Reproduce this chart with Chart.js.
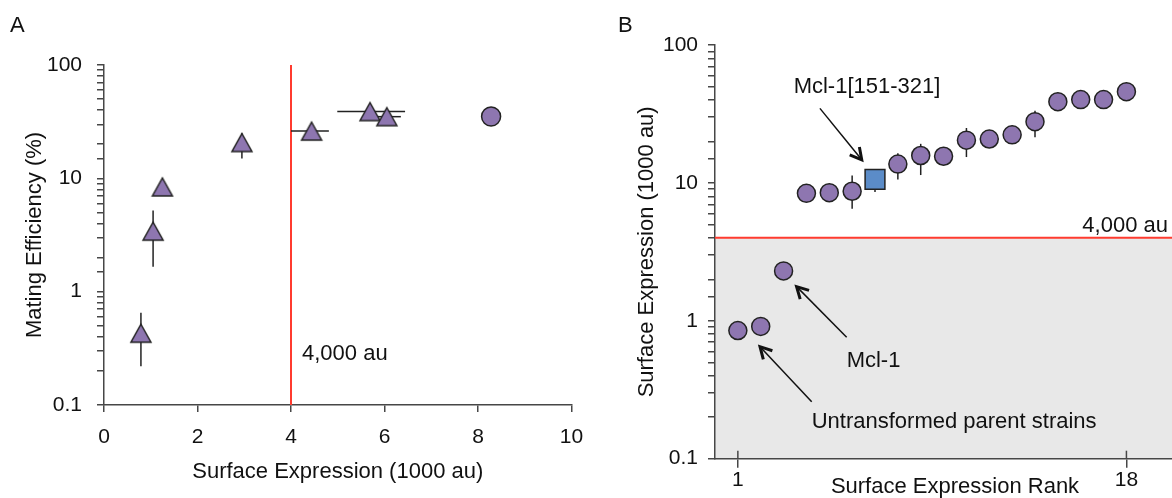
<!DOCTYPE html>
<html>
<head>
<meta charset="utf-8">
<script src="https://cdn.jsdelivr.net/npm/chart.js@4.4.1/dist/chart.umd.min.js"></script>
<style>
  html, body { margin: 0; padding: 0; background: #fff; overflow: hidden; }
  #chartA { position: absolute; left: 0; top: 0; }
  #chartB { position: absolute; left: 600px; top: 0; }
</style>
</head>
<body>
<canvas id="chartA" width="600" height="498"></canvas>
<canvas id="chartB" width="620" height="520"></canvas>
<script>
// ---- panel A : mating efficiency vs surface expression ----
const mutantX       = [0.79, 1.05, 1.25, 2.95, 4.44, 5.69, 6.05];
const mutantEff     = [0.43, 3.42, 8.4, 20.7, 26.1, 38.8, 35.0];
const mutantEffLow  = [0.22, 1.66, null, 15.0, null, null, null];
const mutantEffHigh = [0.65, 5.2, null, 25.0, null, null, null];
const mutantXLow    = [null, null, null, null, 4.0, 4.99, 5.75];
const mutantXHigh   = [null, null, null, null, 4.81, 6.44, 6.35];
const wildX   = [8.28];
const wildEff = [35.1];

// ---- panel B : surface expression by rank ----
const ranks      = [1, 2, 3, 4, 5, 6, 7, 8, 9, 10, 11, 12, 13, 14, 15, 16, 17, 18];
const rankExpr   = [0.85, 0.91, 2.3, 8.4, 8.5, 8.7, 10.6, 13.7, 15.8, 15.6, 20.4, 20.8, 22.3, 27.8, 38.8, 40.2, 40.2, 45.9];
const rankLow    = [null, null, null, null, null, 6.5, 8.6, 10.6, 11.4, 14.0, 15.4, 19.5, 20.5, 21.4, null, null, null, null];
const rankHigh   = [null, null, null, null, null, 11.3, 12.5, 16.4, 19.2, 17.5, 25.0, 22.0, 24.0, 33.4, null, null, null, null];
const squareRank = 7;
const rankTicks  = [1, 18];

const threshold = 4;
const thresholdLabel = '4,000 au';

const notesB = [
  { text: 'Mcl-1[151-321]', x: 6.65, y: 44.7, align: 'center', from: [4.59, 34.7], to: [6.42, 14.7] },
  { text: 'Mcl-1', x: 5.76, y: 0.465, align: 'left', from: [5.76, 0.759], to: [3.57, 1.77] },
  { text: 'Untransformed parent strains', x: 4.23, y: 0.167, align: 'left', from: [4.23, 0.259], to: [1.97, 0.649] }
];

const FONT = '"Liberation Sans", Arial, Helvetica, sans-serif';
Chart.defaults.font.family = FONT;
Chart.defaults.color = '#111';

const axisColor = '#474747';
const ink = '#222';
const purple = '#8e76b0';
const blue = '#5b8cc8';
const red = '#ff3b2f';
const shade = '#e8e8e8';

const isDecade = v => {
  const l = Math.log10(v);
  return Math.abs(l - Math.round(l)) < 1e-9;
};

function triangleMarker( w, h ) {
  const c = document.createElement('canvas');
  c.width = w + 4;
  c.height = h + 4;
  const g = c.getContext('2d');
  g.beginPath();
  g.moveTo(c.width / 2, 2);
  g.lineTo(c.width - 2, h + 2);
  g.lineTo(2, h + 2);
  g.closePath();
  g.fillStyle = purple;
  g.fill();
  g.lineWidth = 1.5;
  g.strokeStyle = ink;
  g.stroke();
  return c;
}

function arrow( ctx, x1, y1, x2, y2 ) {
  const a = Math.atan2(y2 - y1, x2 - x1);
  const L = 13, spread = 0.5;
  ctx.lineWidth = 1.5;
  ctx.beginPath();
  ctx.moveTo(x1, y1);
  ctx.lineTo(x2, y2);
  ctx.stroke();
  ctx.lineWidth = 3;
  ctx.beginPath();
  ctx.moveTo(x2 - L * Math.cos(a - spread), y2 - L * Math.sin(a - spread));
  ctx.lineTo(x2, y2);
  ctx.lineTo(x2 - L * Math.cos(a + spread), y2 - L * Math.sin(a + spread));
  ctx.stroke();
}

const logAxis = ( min, max, width, titleText, titlePad, tickPad ) => ({
  type: 'logarithmic',
  min, max,
  afterFit: s => { s.width = width; },
  border: { display: true, color: axisColor, width: 1.5 },
  grid: { drawOnChartArea: false, drawTicks: true, tickLength: 7, color: axisColor, lineWidth: 1.5 },
  ticks: {
    autoSkip: false,
    padding: tickPad,
    font: { size: 21 },
    callback: v => isDecade(v) ? String(v) : ''
  },
  title: { display: true, text: titleText, font: { size: 22 }, padding: { top: titlePad, bottom: 0 } }
});


// ---------------- panel A ----------------
const panelA = {
  id: 'panelA',
  beforeDatasetsDraw( chart ) {
    const { ctx, chartArea, scales: { x, y } } = chart;
    ctx.save();
    const tx = x.getPixelForValue(threshold);
    ctx.strokeStyle = red;
    ctx.lineWidth = 2;
    ctx.beginPath();
    ctx.moveTo(tx, chartArea.top);
    ctx.lineTo(tx, chartArea.bottom);
    ctx.stroke();

    ctx.strokeStyle = ink;
    ctx.lineWidth = 1.5;
    mutantX.forEach( (v, i) => {
      const px = x.getPixelForValue(v);
      const py = y.getPixelForValue(mutantEff[i]);
      ctx.beginPath();
      if ( mutantEffLow[i] !== null ) {
        ctx.moveTo(px, y.getPixelForValue(mutantEffLow[i]));
        ctx.lineTo(px, y.getPixelForValue(mutantEffHigh[i]));
      }
      if ( mutantXLow[i] !== null ) {
        ctx.moveTo(x.getPixelForValue(mutantXLow[i]), py);
        ctx.lineTo(x.getPixelForValue(mutantXHigh[i]), py);
      }
      ctx.stroke();
    });
    ctx.restore();
  },
  afterDraw( chart ) {
    const { ctx, scales: { x, y } } = chart;
    ctx.save();
    ctx.fillStyle = '#111';
    ctx.font = '22px ' + FONT;
    ctx.fillText('A', 10, 32);
    ctx.fillText(thresholdLabel, x.getPixelForValue(threshold) + 11, y.getPixelForValue(0.25));
    ctx.restore();
  }
};

new Chart(document.getElementById('chartA'), {
  type: 'scatter',
  data: {
    datasets: [
      {
        data: mutantX.map( (v, i) => ({ x: v, y: mutantEff[i] }) ),
        pointStyle: triangleMarker(20, 18),
        radius: 10,
        clip: false
      },
      {
        data: wildX.map( (v, i) => ({ x: v, y: wildEff[i] }) ),
        pointStyle: 'circle',
        radius: 9.5,
        backgroundColor: purple,
        borderColor: ink,
        borderWidth: 1.5,
        clip: false
      }
    ]
  },
  options: {
    responsive: false,
    animation: false,
    events: [],
    layout: { padding: { left: 0, top: 65, right: 28.5, bottom: 0 } },
    plugins: { legend: { display: false }, tooltip: { enabled: false } },
    scales: {
      x: {
        type: 'linear',
        min: 0, max: 10,
        afterFit: s => { s.height = 93; },
        border: { display: true, color: axisColor, width: 1.5 },
        grid: { drawOnChartArea: false, drawTicks: true, tickLength: 7, color: axisColor, lineWidth: 1.5 },
        ticks: { stepSize: 2, padding: 13, font: { size: 21 } },
        title: { display: true, text: 'Surface Expression (1000 au)', font: { size: 22 }, padding: { top: 0, bottom: 13 } }
      },
      y: logAxis(0.1, 100, 104, 'Mating Efficiency (%)', 22, 15)
    }
  },
  plugins: [ panelA ]
});


// ---------------- panel B ----------------
const panelB = {
  id: 'panelB',
  beforeDraw( chart ) {
    const { ctx, chartArea, scales: { y } } = chart;
    const ty = y.getPixelForValue(threshold);
    ctx.save();
    ctx.fillStyle = shade;
    ctx.fillRect(chartArea.left, ty, chartArea.right - chartArea.left, chartArea.bottom - ty);
    ctx.restore();
  },
  beforeDatasetsDraw( chart ) {
    const { ctx, chartArea, scales: { x, y } } = chart;
    ctx.save();
    const ty = y.getPixelForValue(threshold);
    ctx.strokeStyle = red;
    ctx.lineWidth = 2;
    ctx.beginPath();
    ctx.moveTo(chartArea.left, ty);
    ctx.lineTo(chartArea.right, ty);
    ctx.stroke();

    ctx.strokeStyle = ink;
    ctx.lineWidth = 1.5;
    ranks.forEach( (r, i) => {
      if ( rankLow[i] === null ) return;
      const px = x.getPixelForValue(r);
      ctx.beginPath();
      ctx.moveTo(px, y.getPixelForValue(rankLow[i]));
      ctx.lineTo(px, y.getPixelForValue(rankHigh[i]));
      ctx.stroke();
    });
    ctx.restore();
  },
  afterDraw( chart ) {
    const { ctx, chartArea, scales: { x, y } } = chart;
    ctx.save();
    // ticks crossing the rank axis
    ctx.strokeStyle = axisColor;
    ctx.lineWidth = 1.5;
    rankTicks.forEach( r => {
      const px = x.getPixelForValue(r);
      ctx.beginPath();
      ctx.moveTo(px, chartArea.bottom - 8);
      ctx.lineTo(px, chartArea.bottom);
      ctx.stroke();
    });

    ctx.fillStyle = '#111';
    ctx.strokeStyle = '#111';
    ctx.font = '22px ' + FONT;
    ctx.fillText('B', 18, 32);
    ctx.textAlign = 'right';
    ctx.fillText(thresholdLabel, chartArea.right - 27, y.getPixelForValue(threshold) - 6);

    notesB.forEach( n => {
      ctx.textAlign = n.align;
      ctx.fillText(n.text, x.getPixelForValue(n.x), y.getPixelForValue(n.y));
      arrow(ctx,
        x.getPixelForValue(n.from[0]), y.getPixelForValue(n.from[1]),
        x.getPixelForValue(n.to[0]), y.getPixelForValue(n.to[1]));
    });
    ctx.restore();
  }
};

new Chart(document.getElementById('chartB'), {
  type: 'scatter',
  data: {
    datasets: [
      {
        data: ranks.map( (r, i) => ({ x: r, y: rankExpr[i] }) ).filter( p => p.x !== squareRank ),
        pointStyle: 'circle',
        radius: 9,
        backgroundColor: purple,
        borderColor: ink,
        borderWidth: 1.5,
        clip: false
      },
      {
        data: ranks.map( (r, i) => ({ x: r, y: rankExpr[i] }) ).filter( p => p.x === squareRank ),
        pointStyle: 'rect',
        radius: 14,
        backgroundColor: blue,
        borderColor: ink,
        borderWidth: 1.5,
        clip: false
      }
    ]
  },
  options: {
    responsive: false,
    animation: false,
    events: [],
    layout: { padding: { left: 0, top: 45, right: 25, bottom: 0 } },
    plugins: { legend: { display: false }, tooltip: { enabled: false } },
    scales: {
      x: {
        type: 'linear',
        min: 0, max: 21,
        afterFit: s => { s.height = 61.3; },
        afterBuildTicks: s => { s.ticks = rankTicks.map( v => ({ value: v }) ); },
        border: { display: true, color: axisColor, width: 1.5 },
        grid: { drawOnChartArea: false, drawTicks: true, tickLength: 9, color: axisColor, lineWidth: 1.5 },
        ticks: { autoSkip: false, padding: 0, font: { size: 21 } },
        title: { display: true, text: 'Surface Expression Rank', font: { size: 22 }, padding: { top: 0, bottom: 19.5 } }
      },
      y: logAxis(0.1, 100, 115, 'Surface Expression (1000 au)', 34, 10)
    }
  },
  plugins: [ panelB ]
});
</script>
</body>
</html>
